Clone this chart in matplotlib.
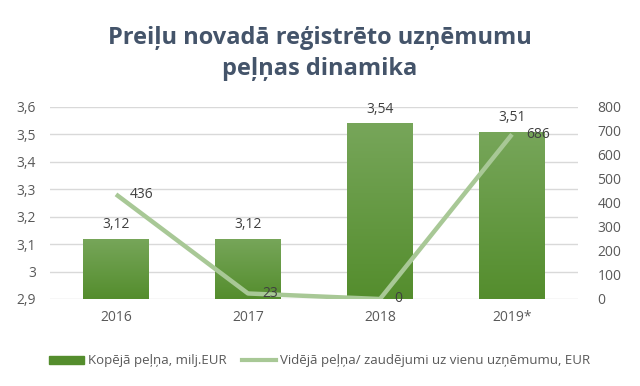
import numpy as np
import matplotlib.pyplot as plt
from matplotlib.lines import Line2D
from matplotlib.patches import Patch
from matplotlib.colors import LinearSegmentedColormap

plt.rcParams['font.family'] = ['Open Sans', 'DejaVu Sans']

years = ['2016', '2017', '2018', '2019*']
total_profit = [3.12, 3.12, 3.54, 3.51]       # milj. EUR
avg_profit = [436, 23, 0, 686]                 # EUR per company
profit_labels = ['3,12', '3,12', '3,54', '3,51']
left_ticks = [2.9, 3.0, 3.1, 3.2, 3.3, 3.4, 3.5, 3.6]
right_ticks = [0, 100, 200, 300, 400, 500, 600, 700, 800]

bar_dark = '#548d2d'
bar_light = '#77a65a'
line_col = '#a8c896'
txt = '#595959'

fig = plt.figure(figsize=(6.4, 3.86), dpi=100)
ax = fig.add_axes([50 / 640, 1 - 299 / 386, 528 / 640, 192 / 386])

x = np.arange(len(years))
bars = ax.bar(x, total_profit, width=0.5, bottom=0, color=bar_dark, zorder=2)

# gradient fill for the bars
cmap = LinearSegmentedColormap.from_list('g', [bar_dark, bar_light])
grad = np.linspace(0, 1, 256).reshape(-1, 1)
for b in bars:
    im = ax.imshow(grad, cmap=cmap, origin='lower', aspect='auto',
                   extent=[b.get_x(), b.get_x() + b.get_width(), 2.9, b.get_height()],
                   zorder=2.5)
    im.set_clip_path(b)
ax.set_xlim(-0.5, 3.5)
ax.set_ylim(2.9, 3.6)

for xi, v, lab in zip(x, total_profit, profit_labels):
    ax.annotate(lab, (xi, v), xytext=(0, 5), textcoords='offset points',
                ha='center', va='bottom', fontsize=10, color='#404040')

ax.set_yticks(left_ticks)
ax.set_yticklabels([f'{v:g}'.replace('.', ',') for v in left_ticks])
ax.set_xticks(x)
ax.set_xticklabels(years)
ax.tick_params(length=0, labelsize=10, colors=txt, pad=8)
ax.tick_params(axis='y', pad=10)
ax.grid(axis='y', color='#d9d9d9', linewidth=1, zorder=0)
ax.set_axisbelow(True)
for s in ax.spines.values():
    s.set_visible(False)

ax2 = ax.twinx()
ax2.plot(x, avg_profit, color=line_col, linewidth=3.2, solid_capstyle='butt', zorder=3)
ax2.set_ylim(0, 800)
ax2.set_yticks(right_ticks)
ax2.tick_params(length=0, labelsize=10, colors=txt, pad=14)
for s in ax2.spines.values():
    s.set_visible(False)
for xi, v in zip(x, avg_profit):
    ax2.annotate(str(v), (xi, v), xytext=(10, 0), textcoords='offset points',
                 ha='left', va='center', fontsize=10, color='#404040')

fig.text(0.5, 0.862, 'Preiļu novadā reģistrēto uzņēmumu\npeļņas dinamika',
         ha='center', va='center', fontsize=17, fontweight='bold',
         color='#44546a', linespacing=1.4)

handles = [Patch(color=bar_dark), Line2D([0], [0], color=line_col, linewidth=3)]
fig.legend(handles, ['Kopējā peļņa, milj.EUR',
                     'Vidējā peļņa/ zaudējumi uz vienu uzņēmumu, EUR'],
           loc='center', bbox_to_anchor=(0.5, 0.065), ncol=2, frameon=False,
           fontsize=9.5, labelcolor=txt, handlelength=2.6, handletextpad=0.3,
           columnspacing=1.2, handleheight=0.6)

fig.savefig('out.png', dpi=100)
